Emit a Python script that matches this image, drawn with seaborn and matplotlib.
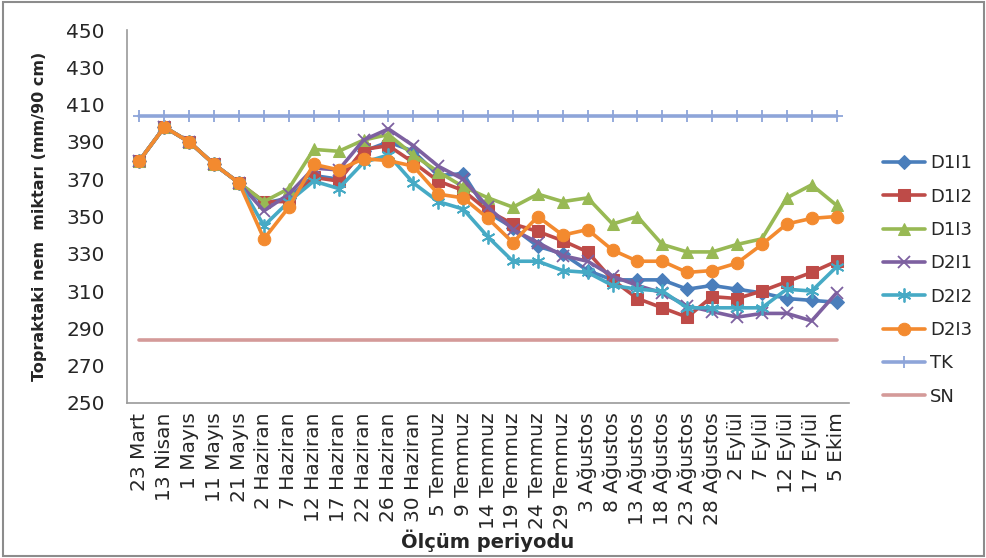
import matplotlib
matplotlib.use("Agg")
import matplotlib.pyplot as plt
import matplotlib.patches as mpatches
import pandas as pd
import seaborn as sns

# measurement dates (category axis)
dates = ["23 Mart", "13 Nisan", "1 Mayıs", "11 Mayıs", "21 Mayıs",
         "2 Haziran", "7 Haziran", "12 Haziran", "17 Haziran", "22 Haziran",
         "26 Haziran", "30 Haziran", "5 Temmuz", "9 Temmuz", "14 Temmuz",
         "19 Temmuz", "24 Temmuz", "29 Temmuz", "3 Ağustos", "8 Ağustos",
         "13 Ağustos", "18 Ağustos", "23 Ağustos", "28 Ağustos", "2 Eylül",
         "7 Eylül", "12 Eylül", "17 Eylül", "5 Ekim"]

d1i1 = [380, 398, 390, 378, 368, 357, 360, 372, 370, 385, 390, 385, 372, 373, 352,
        344, 334, 330, 321, 316, 316, 316, 311, 313, 311, 309, 306, 305, 304]
d1i2 = [380, 398, 390, 378, 368, 358, 358, 371, 369, 386, 388, 379, 369, 364, 353,
        346, 342, 337, 331, 316, 306, 301, 296, 307, 306, 310, 315, 320, 326]
d1i3 = [380, 398, 390, 378, 368, 358, 365, 386, 385, 391, 394, 383, 374, 366, 360,
        355, 362, 358, 360, 346, 350, 335, 331, 331, 335, 338, 360, 367, 356]
d2i1 = [380, 398, 390, 378, 368, 353, 362, 376, 375, 391, 397, 388, 377, 370, 355,
        343, 336, 329, 326, 318, 313, 309, 302, 299, 296, 298, 298, 294, 309]
d2i2 = [380, 398, 390, 378, 368, 345, 358, 369, 365, 379, 383, 368, 358, 354, 339,
        326, 326, 321, 320, 313, 311, 310, 301, 301, 301, 301, 311, 310, 323]
d2i3 = [380, 398, 390, 378, 368, 338, 355, 378, 375, 381, 380, 377, 362, 360, 349,
        336, 350, 340, 343, 332, 326, 326, 320, 321, 325, 335, 346, 349, 350]
tk = [404] * len(dates)   # tarla kapasitesi
sn = [284] * len(dates)   # solma noktası

series = [
    ("D1I1", d1i1, "#4A7EBB", "D", 7),
    ("D1I2", d1i2, "#BE4B48", "s", 8),
    ("D1I3", d1i3, "#98B954", "^", 8),
    ("D2I1", d2i1, "#7D60A0", "x", 8),
    ("D2I2", d2i2, "#46AAC5", (6, 2, 0), 10),
    ("D2I3", d2i3, "#F38A2F", "o", 9),
    ("TK", tk, "#8EA5D9", "+", 9),
    ("SN", sn, "#D49A99", "", 0),
]

sns.set_style("white")
plt.rcParams["font.family"] = ["DejaVu Sans"]

fig = plt.figure(figsize=(9.87, 5.58), dpi=100)
ax = fig.add_axes([0.1287, 0.278, 0.7315, 0.668])

for name, vals, color, marker, ms in series:
    df = pd.DataFrame({"tarih": dates, "nem": vals})
    kw = dict(marker=marker, markersize=ms, markeredgecolor=color,
              markerfacecolor=color) if marker else {}
    if marker in ("x", "+", (6, 2, 0)):
        kw["markeredgewidth"] = 1.3
    sns.lineplot(data=df, x="tarih", y="nem", color=color, linewidth=2.6,
                 label=name, ax=ax, sort=False, **kw)

ax.set_ylim(250, 450)
ax.set_yticks(range(250, 451, 20))
ax.set_xlim(-0.5, len(dates) - 0.5)
ax.set_xticks(range(len(dates)))
ax.set_xticklabels(dates, rotation=90, fontsize=14.5)
ax.tick_params(axis="y", labelsize=14.5, length=0, pad=16)
ax.tick_params(axis="x", length=0, pad=7)

for side in ["top", "right"]:
    ax.spines[side].set_visible(False)
for side in ["left", "bottom"]:
    ax.spines[side].set_color("#9a9a9a")
    ax.spines[side].set_linewidth(1.2)

ax.set_ylabel("Topraktaki nem  miktarı (mm/90 cm)", fontsize=11.5,
              fontweight="bold", labelpad=14)
ax.set_xlabel("Ölçüm periyodu", fontsize=14, fontweight="bold", labelpad=0)

ax.legend(loc="center left", bbox_to_anchor=(1.025, 0.33), frameon=False,
          fontsize=13, handlelength=2.3, labelspacing=0.85, handletextpad=0.3)

fig.patches.append(mpatches.Rectangle((0.003, 0.004), 0.994, 0.992,
                                      transform=fig.transFigure, fill=False,
                                      edgecolor="#8c8c8c", linewidth=1.5))

fig.savefig("out.png", dpi=100)
